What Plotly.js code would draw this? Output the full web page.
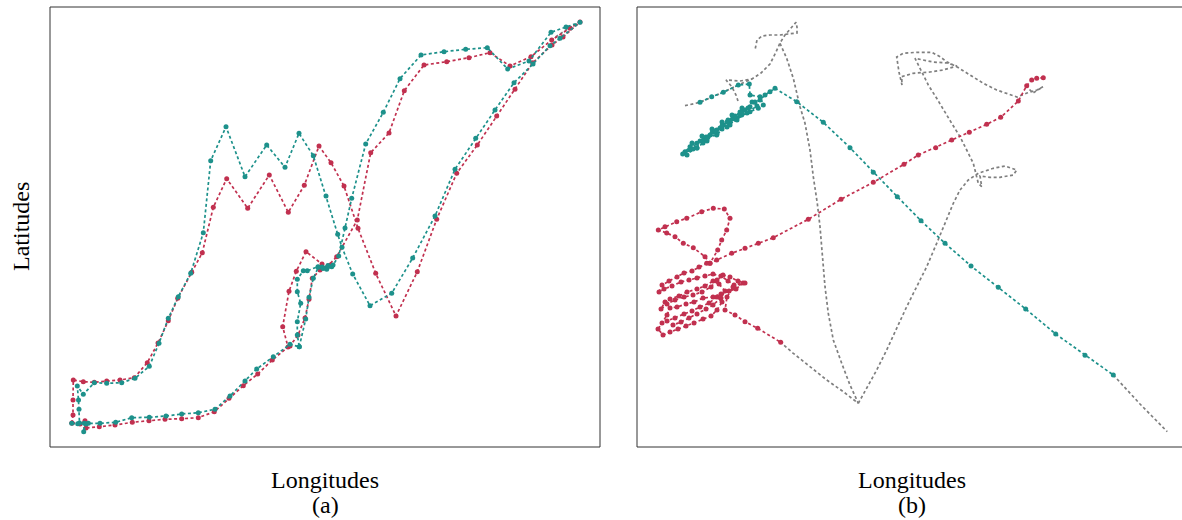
<!DOCTYPE html>
<html><head><meta charset="utf-8">
<script src="https://cdn.plot.ly/plotly-3.0.1.min.js"></script>
<style>html,body{margin:0;padding:0;background:#fff}#chart{width:1182px;height:520px}</style>
</head><body><div id="chart"></div>
<script>
// ---- Panel (a) : traced trajectories (arbitrary lon/lat units) ----
const aTealLon = [21.7,27.7,34.3,33.7,36,38.3,50,65.7,81.7,99.3,116,131.7,148.3,165,180,195,206.7,223.3,240,249.3,247.3,247.3,250.7,247.3,247.3,253.3,257.3,268,273,276.7,281.7,278,272,283,288.7,295,301.7,315.7,333.3,350,371,394,415.7,437.3,457.7,479,501,516,530,510,500,483,464,445,425.7,405,385,362.7,341.7,320,302.7,292,287.7,276,263.3,249,235,216.7,195,176,160.7,153.3,140.7,128.3,118.3,109,99.3,85,71.7,56.7,44.3,33.3,27.3,28.5,29,29.5,
  null,249.3,255.7,259,263.3,268.3];
const aTealLat = [23.7,23.2,23.7,15.3,23,23.7,23.7,24.7,29.3,29.7,31,33,34.3,37.7,51,66,78,90.3,102.7,100.3,112,125.3,143.7,155.3,167.7,176.3,176.3,180.3,178.5,177.7,180.3,181.5,180,182,191,219,248.7,303,334.7,368.3,392,395.3,397.7,399.3,378,386,414.7,420,424.7,408.7,401.3,383,364.3,337,308.7,277.7,231,189,153.7,141.3,173,199.7,212.7,251,291.3,313.7,279.7,302,270.3,320.3,286.3,214.3,173.7,150.3,128.7,103.7,80.7,68.7,64.3,63.7,64.3,52.7,61,47,37.7,24,
  null,100.3,128,149.7,168.7,179.7];
const aRedLon = [22,30,35,36,49.3,65,82.3,99,115,131.7,148.3,164.3,179,193.3,207.7,222.3,238,232.7,239,246.3,256,272,280.7,276,286.7,307.3,320.7,339,354.3,374,396.7,419,440,460,481,501.7,520,530,513,502,482.7,465,446.7,427.3,406.7,386.7,367.3,346,325.7,308,294,281,269,254.3,238.3,219.3,197.7,176.7,163.3,152.3,141.7,127.7,118.3,108,97.3,84.3,70,56.7,44.3,33.3,23.3,23,23,22,
  null,280.7,270,262.3,259,255,248,240];
const aRedLat = [24,23,26.3,19,20.3,22,24.7,26.3,27.7,28.3,29.3,35.3,48.7,61.3,73,87,100,120.3,155.7,175.7,195.3,183,182,179,190.3,227,294.3,314,356.3,382,385.3,389.3,394.3,381,390.3,407,418.7,425,410,402,384.3,357.7,331,302,273.7,227.7,175.3,131,173.7,218.7,261,284.3,301,261.7,234.7,272,238.7,268.3,239.7,194.3,174.7,148.7,126.3,104,84.3,69.3,67,66,64.7,65.3,67,47,32,24,
  null,182,177,168.7,147.7,129,112,101];
const aGrayLon = [501,516,530];
const aGrayLat = [407,417,425];

// ---- Panel (b) ----
const bTealLon = [63,74.7,86.3,101.3,112.3,113,123,126.3,121.3,113,104.7,99.7,93,86.3,79.7,73,66.3,59.7,53,48,45.7,53,60,66,71,79.7,85,93,98,103,108,113,
  103,96,90,83,76,69,63,56,50,55,60,65,70,75,80,85,90,95,100,105,110,115,120,
  70,78,85,91,98,105,111,118,123,128,133,138,
  159.7,186.3,213,236.3,260.3,284,308,334,361.3,388.7,418.7,448,476.3];
const bTealLat = [344.7,350.3,354.7,362,363,352,350.3,342,338.7,335.3,332,328.7,325.3,322,317,312,307,303.7,300.3,295.3,293,297,299,304,310,312,318,322,328,332,337,340.3,
  335,329,325,319,315,310,306,298,292,304,299,311,306,318,313,325,320,332,327,339,334,345,341,
  308,316,321,327,331,334,339,345,347,352,355.3,358.7,
  345.3,324.7,299.3,274.7,250.3,226.3,203.7,181,159.7,138,113,91.7,72];
const bRedLon = [406.3,399.7,394.7,389.7,381.3,363.7,349.7,332.3,314.7,298.7,281.3,267,236.3,204,171.3,136.3,121.3,108,94.7,79.7,73,
  80.7,84.7,89.7,93,87.3,76.3,64.7,49.7,39.7,28,21.3,29.7,38,46.3,56.3,68,73,
  69.7,62,55,47,40,32,25,22,27,35,44,52,60,68,76,84,91,97,106,99,92,84,76,66,57,49,40,33,30,25,21,26,33,41,49,57,66,74,80,85,80,72,63,55,47,38,30,36,44,52,60,69,76,84,88,82,76,68,60,50,42,33,28,24,30,38,47,56,65,74,80,86,93,101,108,96,90,
  88,98,108,120.7,143.7];
const bRedLat = [369.3,368.7,367,361.3,346,329.7,322.7,314.7,307,299.3,292,282.7,264.7,247.7,227.7,209.3,203.7,198.7,193.7,187,183.7,
  197,207,217,228.7,238,238.7,235.3,228.7,225.3,220.3,217,214,210.3,203.7,199.3,190.3,183.7,
  183.7,180,176,174,170,166,162,155,158,161,165,167,169,171,173,171,166,162,164,158,156,153,150,149,145,143,140,139,132,124,118,112,115,118,121,124,128,131,137,145,150,144,140,136,133,129,126,122,125,129,133,138,142,149,156,163,166,161,158,155,151,148,145,138,143,147,150,152,155,160,167,172,170,166,164,160,150,
  137,132,125.3,118.7,104.7];
const bGrayLon = [48,63,75,87,101,115,124,133,139,143,148,153,159,160,160,151,143,133,125,120,118,
  null,101,99,95,89,103,115,
  null,143,149.7,156.3,160,163,168,173,176.3,180.3,183,185.7,188,191.3,196.3,204.7,213,221.3,206.3,189.7,173,156.3,143.7,
  null,221.3,229.7,239.7,249.7,259.7,269.7,279.7,289.7,299.7,309.7,316.3,323,331.3,341.3,356.3,368,379.7,376.3,363,353,343,344.7,341.3,338,336.3,329.7,323,314.7,308,299.7,291.3,283,278,296,310,320,306,293,276,264.7,265,262,261,259.7,266.3,279.7,294.7,303,309.7,319.7,333,346.3,359.7,373,380,390,400,406,396,389.7,
  null,476.3,503,530.3];
const bGrayLat = [341.3,344.7,350,355,362,368,374,383,395,404,412,418,424.7,420,414,413,412,412,411,407,397,
  null,346,352,360,367,366,368,
  null,403.7,388.7,368.7,353.7,340.3,323.7,297,270.3,243.7,220.3,187,160.3,133.7,107,83.7,62,43.7,55.3,67,80.3,93.7,104.7,
  null,43.7,58.7,77,97,118.7,140.3,160.3,180.3,203.7,227,243.7,257,267,273.7,278.7,281,277,272,269.7,269.7,271,260.3,263.7,277,283.7,297,310.3,323.7,335.3,348.7,362,378.7,388.7,385,384,381,377,375,373.7,370.3,362,375,382,390,393.7,394.7,394.7,390.3,385.3,380.3,372,363.7,357,352,350,354,357,360.3,354,360.3,
  null,72,43,15.3];

const TEAL = '#1d918b', RED = '#c1304f', GRAY = '#7f7f7f';
const FONT = 'Liberation Serif, Times New Roman, serif';

function tr(x, y, color, xa, ya, msize) {
  return {x: x, y: y, xaxis: xa, yaxis: ya, type: 'scatter', mode: msize ? 'lines+markers' : 'lines',
    line: {color: color, width: 1.7, dash: '3px,2.5px'},
    marker: {color: color, size: msize || 0}, connectgaps: false, hoverinfo: 'skip', showlegend: false};
}

const data = [
  tr(aGrayLon, aGrayLat, GRAY, 'x', 'y', 0),
  tr(aRedLon, aRedLat, RED, 'x', 'y', 5),
  tr(aTealLon, aTealLat, TEAL, 'x', 'y', 5),
  tr(bGrayLon, bGrayLat, GRAY, 'x2', 'y2', 0),
  tr(bTealLon, bTealLat, TEAL, 'x2', 'y2', 5),
  tr(bRedLon, bRedLat, RED, 'x2', 'y2', 5)
];

const ax = {showticklabels: false, ticks: '', showgrid: false, zeroline: false, showline: false, fixedrange: true};
const W = 1132;
const layout = {
  width: 1182, height: 520,
  margin: {l: 50, r: 0, t: 7, b: 73, pad: 0},
  paper_bgcolor: '#fff', plot_bgcolor: '#fff',
  font: {family: FONT, color: '#000', size: 24},
  xaxis: Object.assign({}, ax, {domain: [0, 550 / W], range: [0, 550]}),
  yaxis: Object.assign({}, ax, {domain: [0, 1], range: [0, 440]}),
  xaxis2: Object.assign({}, ax, {domain: [587 / W, 1], range: [0, 545], anchor: 'y2'}),
  yaxis2: Object.assign({}, ax, {domain: [0, 1], range: [0, 440], anchor: 'x2'}),
  shapes: [
    {type: 'rect', xref: 'x domain', yref: 'y domain', x0: 0, x1: 1, y0: 0, y1: 1, line: {color: '#333', width: 1}},
    {type: 'rect', xref: 'x2 domain', yref: 'y2 domain', x0: 0, x1: 1.02, y0: 0, y1: 1, line: {color: '#333', width: 1}}
  ],
  annotations: [
    {text: 'Latitudes', xref: 'paper', yref: 'paper', x: 0, y: 0.5, xshift: -29, textangle: -90, showarrow: false, xanchor: 'center', yanchor: 'middle', font: {size: 24}},
    {text: 'Longitudes', xref: 'paper', yref: 'paper', x: 275 / W, y: 0, yshift: -33, showarrow: false, xanchor: 'center', yanchor: 'middle', font: {size: 24}},
    {text: '(a)', xref: 'paper', yref: 'paper', x: 275 / W, y: 0, yshift: -58, showarrow: false, xanchor: 'center', yanchor: 'middle', font: {size: 24}},
    {text: 'Longitudes', xref: 'paper', yref: 'paper', x: 862 / W, y: 0, yshift: -33, showarrow: false, xanchor: 'center', yanchor: 'middle', font: {size: 24}},
    {text: '(b)', xref: 'paper', yref: 'paper', x: 862 / W, y: 0, yshift: -58, showarrow: false, xanchor: 'center', yanchor: 'middle', font: {size: 24}}
  ]
};
Plotly.newPlot('chart', data, layout, {displayModeBar: false, staticPlot: true});
</script></body></html>
